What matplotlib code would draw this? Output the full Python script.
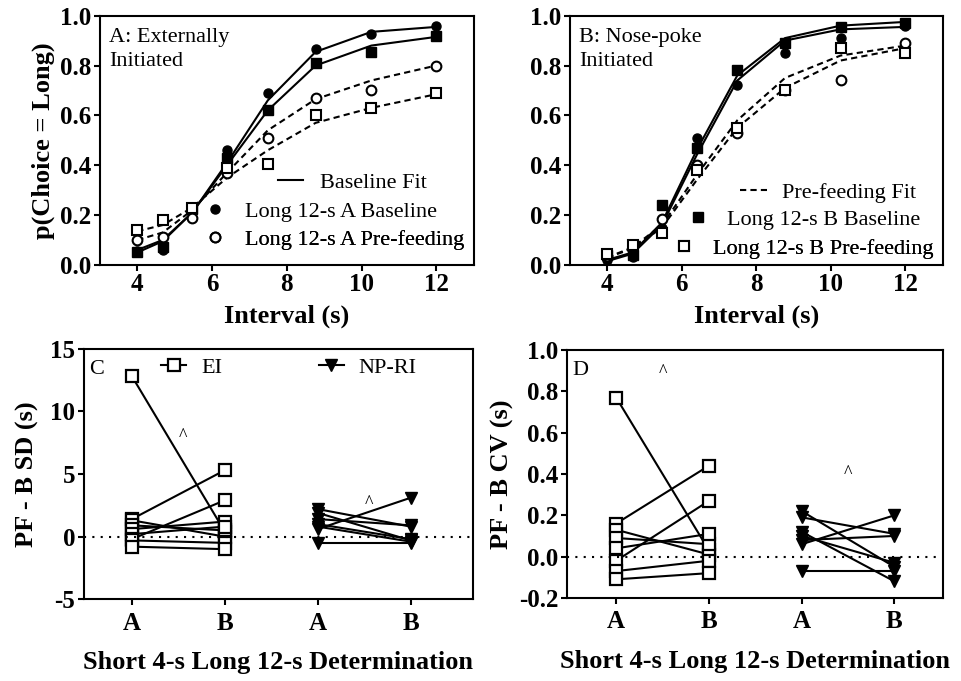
import matplotlib
matplotlib.use("Agg")
import matplotlib.pyplot as plt
from matplotlib.lines import Line2D

plt.rcParams['font.family'] = ['Liberation Serif', 'DejaVu Serif']
plt.rcParams['axes.linewidth'] = 1.5
plt.rcParams['axes.unicode_minus'] = False

# --- data -------------------------------------------------------------
interval = [4.0, 4.68, 5.47, 6.40, 7.49, 8.77, 10.26, 12.0]

# panel A: externally initiated
a_base_A = [0.055, 0.06, 0.23, 0.46, 0.69, 0.865, 0.925, 0.96]
a_pf_A = [0.10, 0.11, 0.19, 0.37, 0.51, 0.67, 0.70, 0.80]
a_base_B = [0.05, 0.07, 0.225, 0.43, 0.62, 0.81, 0.855, 0.92]
a_pf_B = [0.14, 0.18, 0.23, 0.39, 0.405, 0.60, 0.63, 0.69]
a_fit_base_A = [0.06, 0.10, 0.21, 0.41, 0.66, 0.855, 0.935, 0.955]
a_fit_base_B = [0.05, 0.095, 0.21, 0.40, 0.62, 0.80, 0.88, 0.915]
a_fit_pf_A = [0.10, 0.13, 0.22, 0.37, 0.54, 0.665, 0.74, 0.80]
a_fit_pf_B = [0.135, 0.16, 0.23, 0.35, 0.46, 0.57, 0.63, 0.685]

# panel B: nose-poke initiated
b_base_A = [0.02, 0.03, 0.15, 0.51, 0.72, 0.85, 0.91, 0.96]
b_pf_A = [0.035, 0.08, 0.185, 0.40, 0.53, 0.70, 0.74, 0.89]
b_base_B = [0.04, 0.04, 0.24, 0.47, 0.78, 0.89, 0.955, 0.97]
b_pf_B = [0.045, 0.08, 0.13, 0.38, 0.55, 0.70, 0.87, 0.85]
b_fit_base_A = [0.015, 0.045, 0.16, 0.44, 0.74, 0.90, 0.945, 0.955]
b_fit_base_B = [0.02, 0.05, 0.17, 0.46, 0.76, 0.91, 0.96, 0.975]
b_fit_pf_A = [0.03, 0.07, 0.16, 0.36, 0.58, 0.75, 0.84, 0.88]
b_fit_pf_B = [0.03, 0.065, 0.15, 0.34, 0.55, 0.71, 0.82, 0.87]

# panels C/D: pre-feeding minus baseline, per subject (A, B)
ei_sd_A = [12.8, 1.4, 1.3, 0.9, 0.6, 0.2, -0.2, -0.3, -0.8]
ei_sd_B = [0.4, 5.3, 0.0, 0.5, 1.2, 0.8, 2.9, -0.5, -1.0]
np_sd_A = [2.2, 1.9, 1.4, 1.0, 0.8, 0.6, -0.5]
np_sd_B = [0.8, -0.3, 0.9, -0.2, -0.4, 3.1, -0.5]

ei_cv_A = [0.77, 0.16, 0.13, 0.09, 0.04, -0.02, -0.07, -0.11]
ei_cv_B = [0.03, 0.44, 0.01, 0.06, 0.11, 0.27, -0.02, -0.08]
np_cv_A = [0.22, 0.19, 0.12, 0.10, 0.08, 0.06, -0.07]
np_cv_B = [-0.05, 0.11, -0.12, -0.03, 0.10, 0.20, -0.07]

det_labels = ['A', 'B', 'A', 'B']

# --- figure -----------------------------------------------------------
fig = plt.figure(figsize=(9.61, 6.81), dpi=100)
axA = fig.add_axes([0.104, 0.611, 0.389, 0.366])
axB = fig.add_axes([0.593, 0.611, 0.388, 0.366])
axC = fig.add_axes([0.087, 0.120, 0.405, 0.368])
axD = fig.add_axes([0.590, 0.122, 0.391, 0.364])

TICK = 18
LAB = 19
LEG = 16
lw = 1.5
dash = (0, (3, 2))


def style(ax):
    for lab in ax.get_xticklabels() + ax.get_yticklabels():
        lab.set_fontweight('bold')
        lab.set_fontsize(TICK)
    ax.tick_params(direction='out', length=4, width=1.5, pad=2)


def row(ax, handle, label, x, y, hl, pad):
    leg = ax.legend([handle], [label], loc='center left', bbox_to_anchor=(x, y),
                    frameon=False, fontsize=LEG, handlelength=hl,
                    handletextpad=pad, borderpad=0, borderaxespad=0)
    ax.add_artist(leg)


def psych(ax, base_A, pf_A, base_B, pf_B, fb_A, fb_B, fp_A, fp_B):
    ax.plot(interval, fb_A, '-', color='black', lw=lw)
    ax.plot(interval, fb_B, '-', color='black', lw=lw)
    ax.plot(interval, fp_A, linestyle=dash, color='black', lw=lw)
    ax.plot(interval, fp_B, linestyle=dash, color='black', lw=lw)
    ax.plot(interval, base_A, 'o', ms=6.5, color='black', ls='none')
    ax.plot(interval, base_B, 's', ms=6.5, color='black', ls='none')
    ax.plot(interval, pf_A, 'o', ms=7, mfc='white', mec='black', mew=1.5, ls='none')
    ax.plot(interval, pf_B, 's', ms=7, mfc='white', mec='black', mew=1.5, ls='none')
    ax.set_xlim(3, 13)
    ax.set_ylim(0, 1.0)
    ax.set_xticks([4, 6, 8, 10, 12])
    ax.set_yticks([0, 0.2, 0.4, 0.6, 0.8, 1.0])
    ax.set_yticklabels(['0.0', '0.2', '0.4', '0.6', '0.8', '1.0'])
    ax.set_xlabel('Interval (s)', fontsize=LAB, fontweight='bold', labelpad=6)
    style(ax)


psych(axA, a_base_A, a_pf_A, a_base_B, a_pf_B,
      a_fit_base_A, a_fit_base_B, a_fit_pf_A, a_fit_pf_B)
axA.set_ylabel('p(Choice = Long)', fontsize=LAB, fontweight='bold', labelpad=4)
axA.text(0.025, 0.95, 'A: Externally\nInitiated', transform=axA.transAxes,
         fontsize=LEG, va='top', ha='left', linespacing=1.35)
row(axA, Line2D([], [], color='black', lw=lw), 'Baseline Fit', 0.476, 0.33, 1.14, 0.77)
row(axA, Line2D([], [], marker='o', ms=6.5, color='black', ls='none'),
    'Long 12-s A Baseline', 0.278, 0.213, 1.0, 0.86)
row(axA, Line2D([], [], marker='o', ms=7, mfc='white', mec='black', mew=1.5, ls='none'),
    'Long 12-s A Pre-feeding', 0.278, 0.10, 1.0, 0.86)

psych(axB, b_base_A, b_pf_A, b_base_B, b_pf_B,
      b_fit_base_A, b_fit_base_B, b_fit_pf_A, b_fit_pf_B)
axB.text(0.025, 0.95, 'B: Nose-poke\nInitiated', transform=axB.transAxes,
         fontsize=LEG, va='top', ha='left', linespacing=1.35)
row(axB, Line2D([], [], color='black', lw=lw, linestyle=dash), 'Pre-feeding Fit',
    0.456, 0.289, 1.2, 0.68)
row(axB, Line2D([], [], marker='s', ms=6.5, color='black', ls='none'),
    'Long 12-s B Baseline', 0.314, 0.181, 1.0, 0.82)
row(axB, Line2D([], [], marker='s', ms=7, mfc='white', mec='black', mew=1.5, ls='none'),
    'Long 12-s B Pre-feeding', 0.276, 0.064, 1.0, 0.82)


def paired(ax, ei_A, ei_B, np_A, np_B):
    for a, b in zip(ei_A, ei_B):
        ax.plot([1, 2], [a, b], '-', color='black', lw=lw, marker='s', ms=9,
                mfc='white', mec='black', mew=1.6)
    for a, b in zip(np_A, np_B):
        ax.plot([3, 4], [a, b], '-', color='black', lw=lw, marker='v', ms=9)
    ax.axhline(0, color='black', lw=1.5, linestyle=(0, (1, 3)))
    ax.set_xticks([1, 2, 3, 4])
    ax.set_xticklabels(det_labels)
    ax.set_xlabel('Short 4-s Long 12-s Determination', fontsize=LAB,
                  fontweight='bold', labelpad=12)
    style(ax)
    ax.tick_params(axis='x', pad=5)


paired(axC, ei_sd_A, ei_sd_B, np_sd_A, np_sd_B)
axC.set_xlim(0.48, 4.67)
axC.set_ylim(-5, 15)
axC.set_yticks([-5, 0, 5, 10, 15])
axC.set_ylabel('PF - B SD (s)', fontsize=LAB, fontweight='bold', labelpad=8)
axC.text(0.015, 0.955, 'C', transform=axC.transAxes, fontsize=LEG, va='top', ha='left')
axC.text(1.55, 7.6, '^', fontsize=13, ha='center', va='baseline')
axC.text(3.55, 2.3, '^', fontsize=13, ha='center', va='baseline')
axC.legend([Line2D([], [], color='black', lw=lw, marker='s', ms=9, mfc='white',
                   mec='black', mew=1.6),
            Line2D([], [], color='black', lw=lw, marker='v', ms=9)],
           ['EI', 'NP-RI'], ncol=2, loc='center left', bbox_to_anchor=(0.2, 0.925),
           frameon=False, fontsize=LEG, handlelength=1.1, handletextpad=0.68,
           columnspacing=4.37, borderpad=0, borderaxespad=0)

paired(axD, ei_cv_A, ei_cv_B, np_cv_A, np_cv_B)
axD.set_xlim(0.47, 4.52)
axD.set_ylim(-0.2, 1.0)
axD.set_yticks([-0.2, 0, 0.2, 0.4, 0.6, 0.8, 1.0])
axD.set_yticklabels(['-0.2', '0.0', '0.2', '0.4', '0.6', '0.8', '1.0'])
axD.set_ylabel('PF - B CV (s)', fontsize=LAB, fontweight='bold', labelpad=4)
axD.text(0.015, 0.955, 'D', transform=axD.transAxes, fontsize=LEG, va='top', ha='left')
axD.text(1.5, 0.87, '^', fontsize=13, ha='center', va='baseline')
axD.text(3.5, 0.38, '^', fontsize=13, ha='center', va='baseline')

fig.savefig('out.png', dpi=100)
